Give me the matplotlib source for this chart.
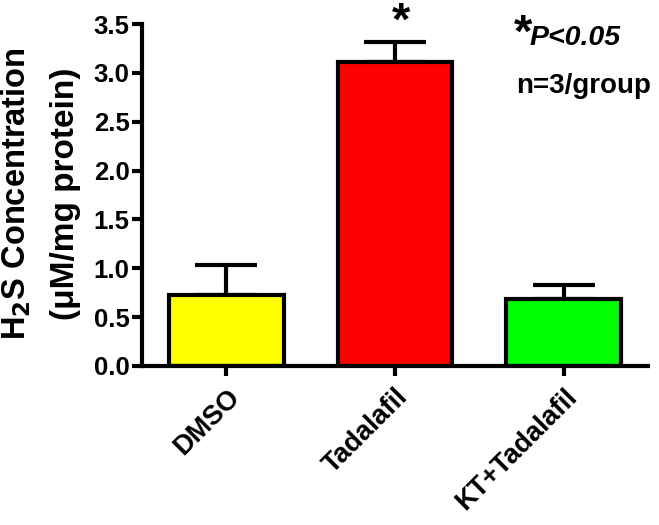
"""H2S concentration bar chart with error bars."""

import matplotlib
import matplotlib.pyplot as plt
from matplotlib.transforms import ScaledTranslation

matplotlib.use("Agg")

plt.rcParams["font.family"] = ["Liberation Sans", "DejaVu Sans"]
plt.rcParams["font.weight"] = "bold"

groups = ["DMSO", "Tadalafil", "KT+Tadalafil"]
means = [0.73, 3.11, 0.69]
sems = [0.30, 0.21, 0.14]
colors = ["#ffff00", "#ff0000", "#00ff00"]
yticks = [0.0, 0.5, 1.0, 1.5, 2.0, 2.5, 3.0, 3.5]

lw = 3.0

fig = plt.figure(figsize=(6.59, 5.25), dpi=100)
ax = fig.add_axes([0.2155, 0.303, 0.768, 0.651])

x = range(len(groups))
ax.bar(x, means, width=0.68, color=colors, edgecolor="black", linewidth=lw, zorder=2)
ax.errorbar(x, means, yerr=[[0] * len(sems), sems], fmt="none", ecolor="black",
            elinewidth=lw, capsize=22, capthick=lw, zorder=1)

ax.set_xlim(-0.5, 2.5)
ax.set_ylim(0, 3.5)
ax.set_yticks(yticks)
ax.set_yticklabels([f"{v:.1f}" for v in yticks], fontsize=18.5, fontweight="bold")
ax.set_xticks(list(x))
ax.set_xticklabels(groups, rotation=45, ha="right", rotation_mode="anchor",
                   fontsize=19.5, fontweight="bold")
# nudge the rotated labels a little left/down
shift = ScaledTranslation(-5 / 100, -2 / 100, fig.dpi_scale_trans)
for lbl in ax.get_xticklabels():
    lbl.set_transform(lbl.get_transform() + shift)

for side in ("top", "right"):
    ax.spines[side].set_visible(False)
for side in ("left", "bottom"):
    ax.spines[side].set_linewidth(lw)
ax.tick_params(width=lw, length=7, direction="out", pad=2)
ax.tick_params(axis="x", pad=6)

# two-line y label
fig.text(0.024, 0.632, "H$_\\mathbf{2}$S Concentration", rotation=90, fontsize=23.5,
         fontweight="bold", ha="center", va="center")
fig.text(0.099, 0.63, "(\u03bcM/mg protein)", rotation=90, fontsize=24,
         fontweight="bold", ha="center", va="center")

# significance marks
fig.text(0.609, 0.957, "*", fontsize=34, fontweight="bold", ha="center", va="center")
fig.text(0.793, 0.933, "*", fontsize=34, fontweight="bold", ha="center", va="center")
fig.text(0.804, 0.914, "P<0.05", fontsize=20.5, fontweight="bold", style="italic",
         ha="left", va="baseline")
fig.text(0.783, 0.823, "n=3/group", fontsize=20, fontweight="bold", ha="left", va="baseline")

fig.savefig("out.png", dpi=100, facecolor="white")
